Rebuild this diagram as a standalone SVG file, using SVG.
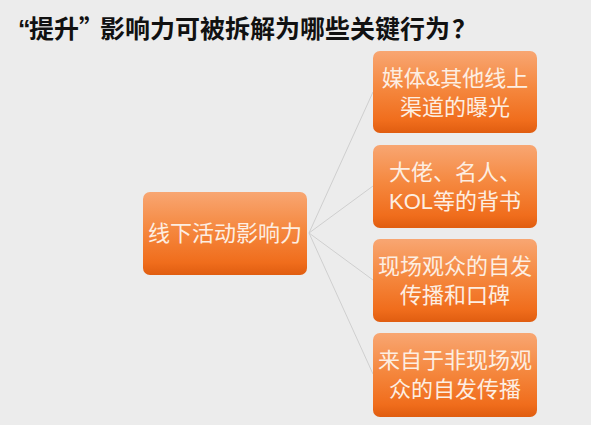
<svg xmlns="http://www.w3.org/2000/svg" width="591" height="425" viewBox="0 0 591 425">
<defs>
<linearGradient id="og" x1="0" y1="0" x2="0" y2="1">
<stop offset="0" stop-color="#f8a672"/>
<stop offset="0.45" stop-color="#f5883f"/>
<stop offset="0.85" stop-color="#f06d1c"/>
<stop offset="1" stop-color="#e05d10"/>
</linearGradient>
<style>
.box{fill:url(#og);}
.t{font-family:"Liberation Sans","Noto Sans CJK SC",sans-serif;font-size:22px;fill:#fdeee2;text-anchor:middle;}
.c{stroke:#cfcfcf;stroke-width:1;fill:none;}
</style>
</defs>
<rect width="591" height="425" fill="#ececec"/>
<text x="18" y="38" font-family="'Noto Sans CJK SC',sans-serif" font-size="25" font-weight="bold" fill="#111"><tspan font-family="'Liberation Sans',sans-serif">“</tspan><tspan x="29">提升”</tspan><tspan x="100">影响力可被拆解为哪些关键行为</tspan><tspan x="452">？</tspan></text>
<g id="connectors">
<line class="c" x1="309" y1="233" x2="373" y2="92"/>
<line class="c" x1="309" y1="233" x2="373" y2="186"/>
<line class="c" x1="309" y1="233" x2="373" y2="280"/>
<line class="c" x1="309" y1="233" x2="373" y2="374"/>
</g>
<g id="center">
<rect class="box" x="143" y="192" width="164" height="83" rx="7"/>
<text class="t" x="225" y="241">线下活动影响力</text>
</g>
<g id="n1">
<rect class="box" x="373" y="51" width="164" height="82" rx="7"/>
<text class="t" x="455" y="86">媒体&amp;其他线上</text>
<text class="t" x="455" y="115">渠道的曝光</text>
</g>
<g id="n2">
<rect class="box" x="373" y="145" width="164" height="83" rx="7"/>
<text class="t" x="455" y="180">大佬、名人、</text>
<text class="t" x="455" y="209">KOL等的背书</text>
</g>
<g id="n3">
<rect class="box" x="373" y="239" width="164" height="83" rx="7"/>
<text class="t" x="455" y="274">现场观众的自发</text>
<text class="t" x="455" y="303">传播和口碑</text>
</g>
<g id="n4">
<rect class="box" x="373" y="333" width="164" height="84" rx="7"/>
<text class="t" x="455" y="368">来自于非现场观</text>
<text class="t" x="455" y="397">众的自发传播</text>
</g>
</svg>
